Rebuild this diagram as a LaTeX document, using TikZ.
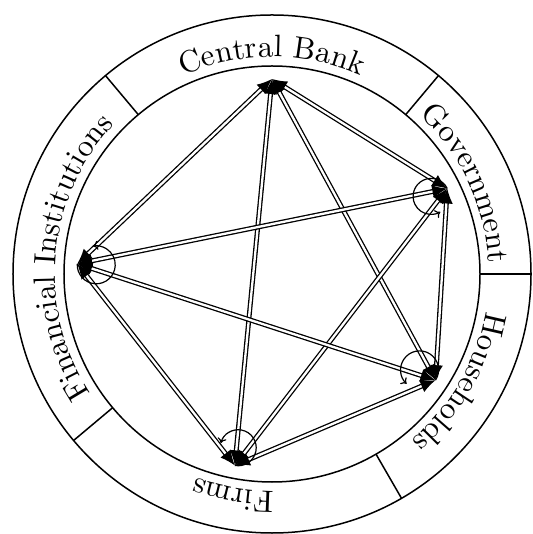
\documentclass[tikz,border=0pt]{standalone}
\usepackage{fontspec}
\usetikzlibrary{arrows.meta,decorations.text}
\newfontfamily\lmten{lmroman10-regular.otf}
\newcommand\sectorfont{\lmten\fontsize{31}{37}\selectfont}
\begin{document}
\begin{tikzpicture}[
  ring/.style={line width=1.5pt},
  link/.style={double, line width=1.3pt, double distance=2.3pt,
    {Latex[length=15pt,width=13pt]}-{Latex[length=15pt,width=13pt]}},
  selfloop/.style={line width=1.2pt, -{To[length=5pt,width=9pt]}},
  lbl/.style={decorate, decoration={text along path, text align=center,
    text={|\sectorfont|#1}}}
]
\useasboundingbox (-272pt,-260pt) rectangle (260pt,274pt);
% ring
\draw[ring] (0,0) circle[radius=259pt];
\draw[ring] (0,0) circle[radius=208pt];
\foreach \a in {130,50,0,-60,-140} \draw[ring] (\a:208pt) -- (\a:259pt);
% sector labels
\path[lbl={Central Bank}] (130:217pt) arc[start angle=130,end angle=50,radius=217pt];
\path[lbl={Government}] (50:217pt) arc[start angle=50,end angle=0,radius=217pt];
\path[lbl={Households}] (0:217pt) arc[start angle=0,end angle=-60,radius=217pt];
\path[lbl={Firms}] (-60:217pt) arc[start angle=-60,end angle=-140,radius=217pt];
\path[lbl={Financial Institutions}] (220:217pt) arc[start angle=220,end angle=130,radius=217pt];
% sectors
\coordinate (cb) at (90:195pt);
\coordinate (gov) at (26:195pt);
\coordinate (hh) at (-33:195pt);
\coordinate (fm) at (259:195pt);
\coordinate (fi) at (177:195pt);
% links
\draw[link] (cb) -- (gov);
\draw[link] (cb) -- (hh);
\draw[link] (cb) -- (fm);
\draw[link] (cb) -- (fi);
\draw[link] (gov) -- (hh);
\draw[link] (gov) -- (fm);
\draw[link] (gov) -- (fi);
\draw[link] (hh) -- (fm);
\draw[link] (hh) -- (fi);
\draw[link] (fm) -- (fi);
% self loops
\draw[selfloop] (gov) arc[start angle=26,delta angle=275,radius=18pt];
\draw[selfloop] (hh) arc[start angle=-33,delta angle=260,radius=19pt];
\draw[selfloop] (fm) arc[start angle=259,delta angle=266,radius=18pt];
\draw[selfloop] (fi) arc[start angle=177,delta angle=283,radius=19pt];
\end{tikzpicture}
\end{document}
